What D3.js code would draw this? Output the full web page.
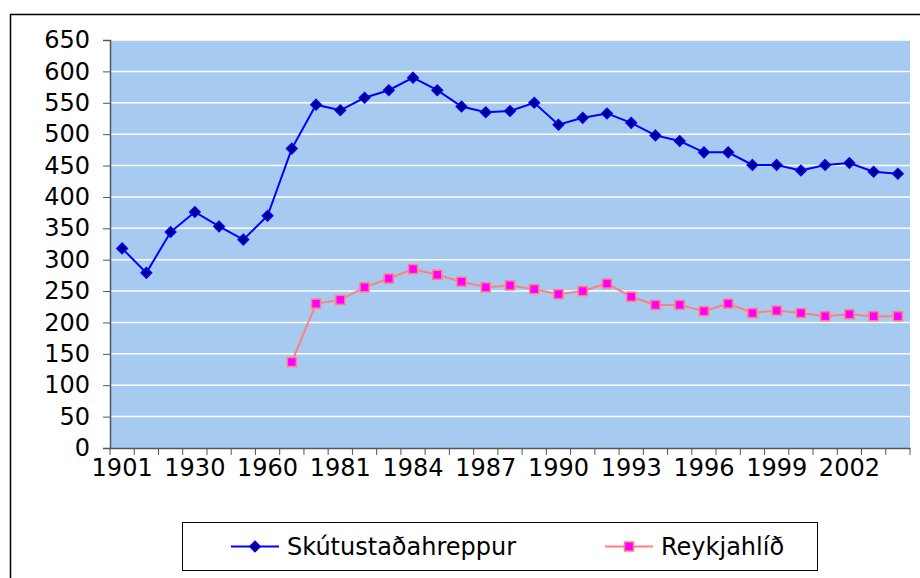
<!DOCTYPE html>
<html>
<head>
<meta charset="utf-8">
<script src="https://cdn.jsdelivr.net/npm/d3@7"></script>
<style>
body { margin: 0; background: #fff; }
text { font-family: "DejaVu Sans", Verdana, sans-serif; }
</style>
</head>
<body>
<script>
// categories (years) and series values
var years = ["1901","1910","1920","1930","1940","1950","1960","1970","1980",
  "1981","1982","1983","1984","1985","1986","1987","1988","1989","1990","1991",
  "1992","1993","1994","1995","1996","1997","1998","1999","2000","2001","2002",
  "2003","2004"];
var skutu = [318,279,344,376,353,332,370,477,547,538,558,570,590,570,544,535,
  537,550,515,526,533,518,498,489,471,471,451,451,442,451,454,440,437];
var reykja = [null,null,null,null,null,null,null,137,230,236,256,270,285,276,
  265,256,259,253,245,250,262,241,228,228,218,230,215,219,215,210,213,210,210];
var yTicks = [0,50,100,150,200,250,300,350,400,450,500,550,600,650];
var seriesNames = ["Skútustaðahreppur", "Reykjahlíð"];

// set the dimensions and margins of the graph
var margin = {top: 40, right: 10, bottom: 130, left: 110},
  width = 920 - margin.left - margin.right,
  height = 578 - margin.top - margin.bottom;

var svg = d3.select("body").append("svg")
  .attr("width", 920)
  .attr("height", 578);

// outer frame
svg.append("path")
  .attr("d", "M10.5,578 V14.5 H920")
  .attr("fill", "none")
  .attr("stroke", "#000")
  .attr("stroke-width", 1.5);

var g = svg.append("g")
  .attr("transform", "translate(" + margin.left + "," + margin.top + ")");

// set the ranges
var x = d3.scaleBand().domain(years).range([0, width]);
var y = d3.scaleLinear().domain([0, 650]).range([height, 0]);

// plot background
g.append("rect")
  .attr("width", width)
  .attr("height", height)
  .attr("fill", "#a6caf0");

// gridlines
g.selectAll(".grid")
  .data(yTicks.slice(1))
  .enter().append("line")
  .attr("x1", 0).attr("x2", width)
  .attr("y1", function(d) { return y(d); })
  .attr("y2", function(d) { return y(d); })
  .attr("stroke", "#fff")
  .attr("stroke-width", 1.5);

// y axis
var yAxis = g.append("g")
  .call(d3.axisLeft(y).tickValues(yTicks).tickSize(7).tickPadding(13));
yAxis.select(".domain").attr("stroke", "#555").attr("stroke-width", 1.5);
yAxis.selectAll(".tick line").attr("stroke", "#555");
yAxis.selectAll("text").style("font-size", "24px").attr("fill", "#000");

// x axis: ticks at category boundaries, labels every third year
var xAxis = g.append("g")
  .attr("transform", "translate(0," + height + ")")
  .call(d3.axisBottom(x).tickSize(0).tickPadding(11)
    .tickValues(years.filter(function(d, i) { return i % 3 === 0; })));
xAxis.select(".domain").attr("stroke", "#555").attr("stroke-width", 1.5);
xAxis.selectAll("text").style("font-size", "24px").attr("fill", "#000");

g.append("g")
  .selectAll("line")
  .data(years.concat(["end"]))
  .enter().append("line")
  .attr("x1", function(d, i) { return i * x.step(); })
  .attr("x2", function(d, i) { return i * x.step(); })
  .attr("y1", height)
  .attr("y2", height + 7)
  .attr("stroke", "#555");

var cx = function(d, i) { return x(years[i]) + x.bandwidth() / 2; };

// lines
var line = d3.line()
  .defined(function(d) { return d !== null; })
  .x(cx)
  .y(function(d) { return y(d); });

g.append("path").datum(skutu)
  .attr("fill", "none").attr("stroke", "#0000ff").attr("stroke-width", 2)
  .attr("d", line);
g.append("path").datum(reykja)
  .attr("fill", "none").attr("stroke", "#ff8080").attr("stroke-width", 2)
  .attr("d", line);

// markers
var diamond = d3.symbol().type(d3.symbolDiamond2).size(70);

g.selectAll(".dia")
  .data(skutu)
  .enter().append("path")
  .attr("transform", function(d, i) { return "translate(" + cx(d, i) + "," + y(d) + ")"; })
  .attr("d", diamond)
  .attr("fill", "#000080")
  .attr("stroke", "#0000ff")
  .attr("stroke-width", 1.5);

g.selectAll(".sq")
  .data(reykja.map(function(d, i) { return {v: d, i: i}; })
    .filter(function(d) { return d.v !== null; }))
  .enter().append("rect")
  .attr("x", function(d) { return cx(d.v, d.i) - 4.5; })
  .attr("y", function(d) { return y(d.v) - 4.5; })
  .attr("width", 9).attr("height", 9)
  .attr("fill", "#ff00ff")
  .attr("stroke", "#ff8080")
  .attr("stroke-width", 1.5);

// legend
var legend = svg.append("g");
legend.append("rect")
  .attr("x", 182.5).attr("y", 522.5)
  .attr("width", 635).attr("height", 48)
  .attr("fill", "#fff").attr("stroke", "#000");

var legendItems = [
  {name: seriesNames[0], color: "#0000ff", x0: 231},
  {name: seriesNames[1], color: "#ff8080", x0: 605}
];
legendItems.forEach(function(it, k) {
  var ly = 546.5;
  legend.append("line")
    .attr("x1", it.x0).attr("x2", it.x0 + 48)
    .attr("y1", ly).attr("y2", ly)
    .attr("stroke", it.color).attr("stroke-width", 2);
  if (k === 0) {
    legend.append("path")
      .attr("transform", "translate(" + (it.x0 + 24) + "," + ly + ")")
      .attr("d", diamond)
      .attr("fill", "#000080").attr("stroke", "#0000ff").attr("stroke-width", 1.5);
  } else {
    legend.append("rect")
      .attr("x", it.x0 + 24 - 4.5).attr("y", ly - 4.5)
      .attr("width", 9).attr("height", 9)
      .attr("fill", "#ff00ff").attr("stroke", "#ff8080").attr("stroke-width", 1.5);
  }
  legend.append("text")
    .attr("x", it.x0 + 56).attr("y", ly)
    .attr("dy", "0.35em")
    .style("font-size", "24px")
    .text(it.name);
});
</script>
</body>
</html>
